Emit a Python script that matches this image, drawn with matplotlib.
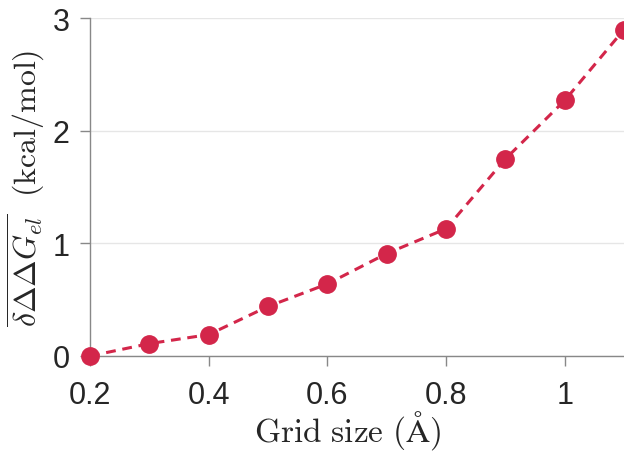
import matplotlib
matplotlib.use("Agg")
import matplotlib.pyplot as plt

grid_size = [0.2, 0.3, 0.4, 0.5, 0.6, 0.7, 0.8, 0.9, 1.0, 1.1]
ddg = [0.0, 0.11, 0.19, 0.44, 0.64, 0.91, 1.13, 1.75, 2.27, 2.90]
xticks = [0.2, 0.4, 0.6, 0.8, 1.0]
xticklabels = ["0.2", "0.4", "0.6", "0.8", "1"]
yticks = [0, 1, 2, 3]
yticklabels = ["0", "1", "2", "3"]

plt.rcParams['mathtext.fontset'] = 'cm'
plt.rcParams['font.family'] = ['Liberation Sans', 'DejaVu Sans']

fig = plt.figure(figsize=(6.24, 4.52), dpi=100)
ax_left, ax_bottom_px, ax_top_px = 90, 357, 19.3
ax = fig.add_axes([ax_left/624, (452-ax_bottom_px)/452, 1 - ax_left/624,
                   (ax_bottom_px-ax_top_px)/452])

color = '#D3264A'
ax.plot(grid_size, ddg, linestyle=(0, (3.2, 2.2)), color=color, linewidth=2.2,
        marker='o', markersize=12.5, clip_on=False, zorder=3)

ax.set_xlim(0.2, 1.1)
ax.set_ylim(0, 3)
ax.set_xticks(xticks)
ax.set_xticklabels(xticklabels)
ax.set_yticks(yticks)
ax.set_yticklabels(yticklabels)

for s in ['top', 'right']:
    ax.spines[s].set_visible(False)
for s in ['left', 'bottom']:
    ax.spines[s].set_color('#888888')
    ax.spines[s].set_linewidth(1.0)

ax.tick_params(axis='both', direction='out', length=7.5, width=1.0,
               color='#888888', labelsize=22, labelcolor='#262626')
ax.tick_params(axis='x', pad=10)
ax.tick_params(axis='y', pad=7)
ax.yaxis.grid(True, color='#E6E6E6', linewidth=1.0)
ax.set_axisbelow(True)

ax.set_xlabel(r'$\mathrm{Grid\ size\ (\AA)}$', fontsize=24, color='#262626')
ax.xaxis.set_label_coords(0.483, -0.155)
ax.set_ylabel(r'$\overline{\delta\Delta\Delta G_{el}}\ \ \mathrm{(kcal/mol)}$',
              fontsize=23, color='#262626')
ax.yaxis.set_label_coords(-0.081, 0.5)

fig.savefig('out.png', dpi=100)
